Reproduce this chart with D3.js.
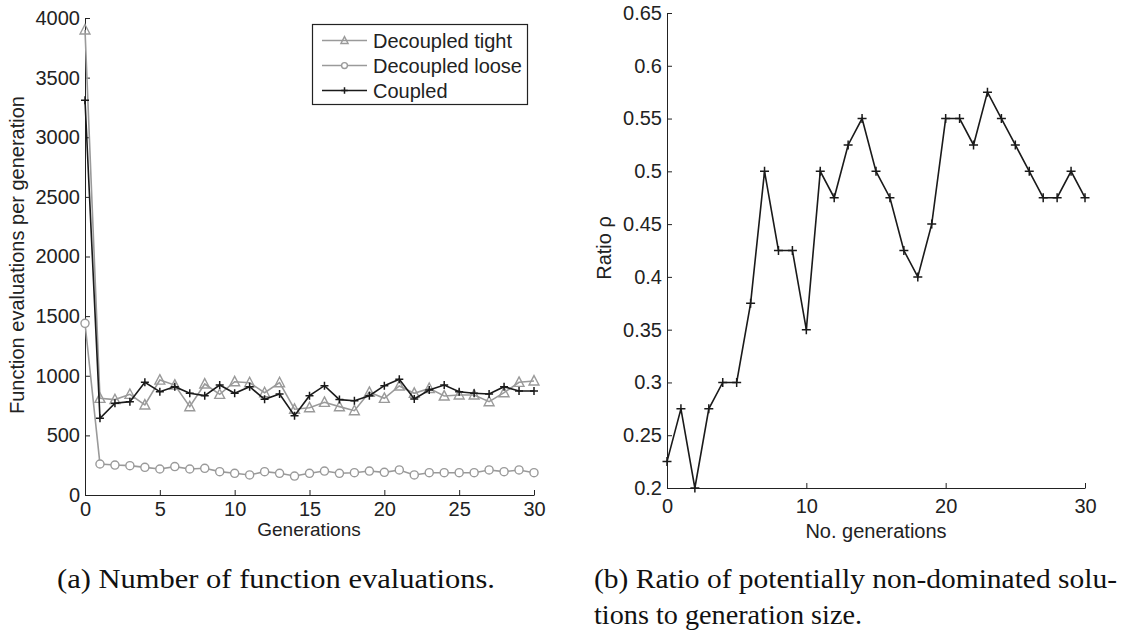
<!DOCTYPE html>
<meta charset="utf-8">
<head>
<title>Function evaluations and ratio</title>
<script src="https://d3js.org/d3.v7.min.js"></script>
<style>
  body { margin: 0; background: #fff; }
  svg text { font-family: "Liberation Sans", Arial, sans-serif; fill: #222; }
  .tick line, .domain { stroke: #222; }
  svg text.caption { font-family: "Liberation Serif", "Times New Roman", serif; font-size: 27px; fill: #111; }
</style>
</head>
<body>
<div id="chart"></div>
<script>
// data
var generations = d3.range(0, 31);
var tight = [3900, 811, 800, 844, 755, 964, 922, 741, 931, 844, 950, 942, 858, 942, 719, 732,
             777, 741, 707, 861, 811, 914, 853, 894, 830, 839, 839, 783, 858, 945, 956];
var loose = [1440, 260, 251, 246, 232, 218, 238, 218, 224, 196, 182, 168, 196, 182, 159, 182,
             201, 182, 187, 201, 190, 210, 168, 187, 187, 187, 187, 210, 196, 210, 187];
var coupled = [3310, 643, 769, 783, 945, 866, 908, 853, 833, 922, 853, 908, 802, 847, 665, 833,
               917, 800, 791, 833, 917, 970, 805, 880, 922, 866, 853, 847, 908, 872, 872];
var ratio = [0.225, 0.275, 0.2, 0.275, 0.3, 0.3, 0.375, 0.5, 0.425, 0.425, 0.35, 0.5, 0.475, 0.525, 0.55, 0.5,
             0.475, 0.425, 0.4, 0.45, 0.55, 0.55, 0.525, 0.575, 0.55, 0.525, 0.5, 0.475, 0.475, 0.5, 0.475];

var leftXTicks = [0, 5, 10, 15, 20, 25, 30];
var leftYTicks = [0, 500, 1000, 1500, 2000, 2500, 3000, 3500, 4000];
var rightXTicks = [0, 10, 20, 30];
var rightYTicks = [0.2, 0.25, 0.3, 0.35, 0.4, 0.45, 0.5, 0.55, 0.6, 0.65];
var rightYLabels = ["0.2", "0.25", "0.3", "0.35", "0.4", "0.45", "0.5", "0.55", "0.6", "0.65"];

var seriesNames = ["Decoupled tight", "Decoupled loose", "Coupled"];
var seriesColors = ["#9a9a9a", "#9a9a9a", "#1a1a1a"];
var seriesMarkers = ["triangle", "circle", "plus"];

var width = 1138, height = 630;
var svg = d3.select("#chart").append("svg")
    .attr("width", width)
    .attr("height", height);

function marker(g, type, color, x, y, s) {
  if (type == "triangle") {
    g.append("path")
      .attr("d", "M" + x + "," + (y - s * 0.6) + "L" + (x + s * 0.55) + "," + (y + s * 0.45) + "L" + (x - s * 0.55) + "," + (y + s * 0.45) + "Z")
      .attr("fill", "none").attr("stroke", color).attr("stroke-width", 1.4);
  } else if (type == "circle") {
    g.append("circle").attr("cx", x).attr("cy", y).attr("r", s * 0.45)
      .attr("fill", "#fff").attr("stroke", color).attr("stroke-width", 1.4);
  } else {
    g.append("path")
      .attr("d", "M" + (x - s / 2) + "," + y + "H" + (x + s / 2) + "M" + x + "," + (y - s / 2) + "V" + (y + s / 2))
      .attr("stroke", color).attr("stroke-width", 1.5);
  }
}

// ---- left chart
var x1 = d3.scaleLinear().domain([0, 30]).range([85, 534]);
var y1 = d3.scaleLinear().domain([0, 4000]).range([495, 18]);

svg.append("g")
    .attr("transform", "translate(0," + y1(0) + ")")
    .call(d3.axisBottom(x1).tickValues(leftXTicks).tickSize(-5).tickSizeOuter(0).tickPadding(7))
    .call(function(g) { g.selectAll("text").style("font-size", "20px"); });
svg.append("g")
    .attr("transform", "translate(" + x1(0) + ",0)")
    .call(d3.axisLeft(y1).tickValues(leftYTicks).tickSize(-5).tickSizeOuter(0).tickPadding(5)
      .tickFormat(d3.format("d")))
    .call(function(g) { g.selectAll("text").style("font-size", "20px"); });

var leftData = [tight, loose, coupled];
leftData.forEach(function(vals, i) {
  var g = svg.append("g");
  var line = d3.line().x(function(d, j) { return x1(generations[j]); }).y(function(d) { return y1(d); });
  g.append("path").datum(vals).attr("d", line)
    .attr("fill", "none").attr("stroke", seriesColors[i]).attr("stroke-width", 1.6);
  vals.forEach(function(v, j) {
    marker(g, seriesMarkers[i], seriesColors[i], x1(generations[j]), y1(v), i == 2 ? 8 : 9);
  });
});

svg.append("text").attr("x", 309).attr("y", 536).attr("text-anchor", "middle")
    .style("font-size", "19px").text("Generations");
svg.append("text").attr("transform", "translate(24,255) rotate(-90)").attr("text-anchor", "middle")
    .style("font-size", "20px").text("Function evaluations per generation");

// legend
var leg = svg.append("g");
leg.append("rect").attr("x", 312.5).attr("y", 24.5).attr("width", 215).attr("height", 80)
    .attr("fill", "#fff").attr("stroke", "#222").attr("stroke-width", 1.2);
seriesNames.forEach(function(name, i) {
  var cy = 40.5 + i * 25;
  leg.append("line").attr("x1", 322).attr("x2", 367).attr("y1", cy).attr("y2", cy)
    .attr("stroke", seriesColors[i]).attr("stroke-width", 1.6);
  marker(leg, seriesMarkers[i], seriesColors[i], 344.5, cy, 6.5);
  leg.append("text").attr("x", 373).attr("y", cy + 7).style("font-size", "20px").text(name);
});

// ---- right chart
var x2 = d3.scaleLinear().domain([0, 30]).range([667, 1085]);
var y2 = d3.scaleLinear().domain([0.2, 0.65]).range([488, 13]);

svg.append("g")
    .attr("transform", "translate(0," + y2(0.2) + ")")
    .call(d3.axisBottom(x2).tickValues(rightXTicks).tickSize(-5).tickSizeOuter(0).tickPadding(11))
    .call(function(g) { g.selectAll("text").style("font-size", "20px"); });
svg.append("g")
    .attr("transform", "translate(" + x2(0) + ",0)")
    .call(d3.axisLeft(y2).tickValues(rightYTicks).tickSize(-5).tickSizeOuter(0).tickPadding(5)
      .tickFormat(function(d, i) { return rightYLabels[i]; }))
    .call(function(g) { g.selectAll("text").style("font-size", "20px"); });

var gr = svg.append("g");
gr.append("path").datum(ratio)
    .attr("d", d3.line().x(function(d, j) { return x2(generations[j]); }).y(function(d) { return y2(d); }))
    .attr("fill", "none").attr("stroke", "#1a1a1a").attr("stroke-width", 1.6);
ratio.forEach(function(v, j) { marker(gr, "plus", "#1a1a1a", x2(generations[j]), y2(v), 9); });

svg.append("text").attr("x", 876).attr("y", 538).attr("text-anchor", "middle")
    .style("font-size", "20px").text("No. generations");
svg.append("text").attr("transform", "translate(611,248) rotate(-90)").attr("text-anchor", "middle")
    .style("font-size", "20px").text("Ratio ρ");

// captions
svg.append("text").attr("class", "caption").attr("x", 57).attr("y", 588)
    .attr("textLength", 438).attr("lengthAdjust", "spacingAndGlyphs")
    .text("(a) Number of function evaluations.");
svg.append("text").attr("class", "caption").attr("x", 594).attr("y", 588)
    .attr("textLength", 523).attr("lengthAdjust", "spacingAndGlyphs")
    .text("(b) Ratio of potentially non-dominated solu-");
svg.append("text").attr("class", "caption").attr("x", 594).attr("y", 624)
    .attr("textLength", 268).attr("lengthAdjust", "spacingAndGlyphs")
    .text("tions to generation size.");
</script>
</body>
</html>
